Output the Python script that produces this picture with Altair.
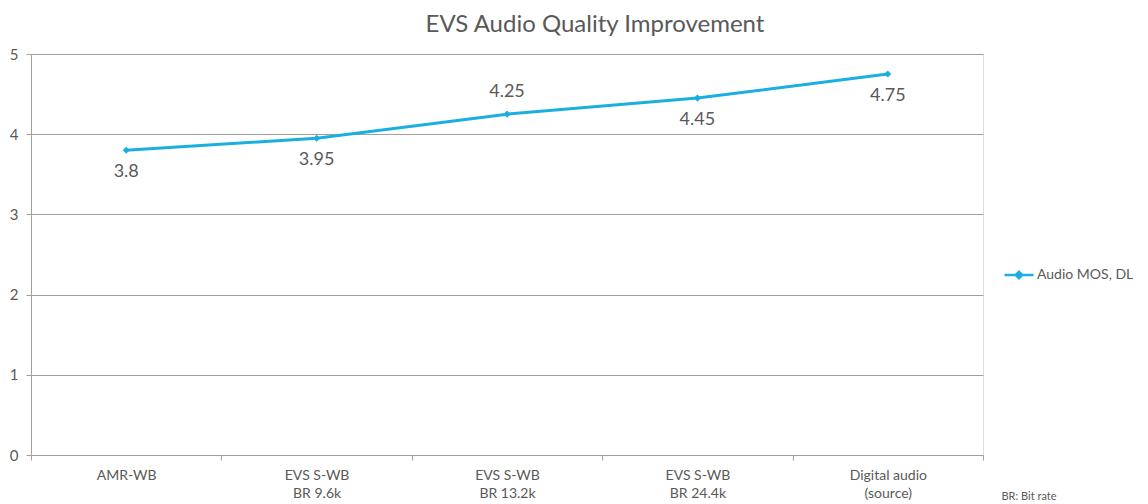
import altair as alt
import pandas as pd

categories = ["AMR-WB", "EVS S-WB|BR 9.6k", "EVS S-WB|BR 13.2k", "EVS S-WB|BR 24.4k", "Digital audio|(source)"]
mos = [3.8, 3.95, 4.25, 4.45, 4.75]
label_side = ["below", "below", "above", "below", "below"]
series_name = "Audio MOS, DL"
y_ticks = [0, 1, 2, 3, 4, 5]
note = "BR: Bit rate"
title = "EVS Audio Quality Improvement"

BLUE = "#1aafe0"
TEXT = "#595959"
GRID = "#a0a0a0"
FONT = "Lato"

df = pd.DataFrame({"cat": categories, "mos": mos, "side": label_side, "series": series_name})

x_enc = alt.X(
    "cat:N",
    sort=categories,
    scale=alt.Scale(type="band", paddingInner=0, paddingOuter=0),
    axis=alt.Axis(
        title=note,
        titleX=970, titleY=41, titleAlign="left", titleBaseline="middle",
        titleFontSize=11, titleFontWeight="normal", titleColor=TEXT, titleFont=FONT,
        labelExpr="split(datum.label, '|')",
        labelAngle=0, labelFontSize=14, labelColor=TEXT, labelFont=FONT,
        labelLineHeight=18, labelPadding=8, labelBaseline="top",
        tickBand="extent", tickSize=5, tickColor=GRID, domainColor=GRID,
        grid=False,
    ),
)
y_enc = alt.Y(
    "mos:Q",
    scale=alt.Scale(domain=[0, 5], nice=False),
    axis=alt.Axis(
        title=None, values=y_ticks, grid=True, gridColor=GRID, domainColor=GRID,
        tickColor=GRID, tickSize=5, labelPadding=8, labelFontSize=15,
        labelColor=TEXT, labelFont=FONT,
    ),
)

base = alt.Chart(df)

line = base.mark_line(strokeWidth=3).encode(
    x=x_enc, y=y_enc,
    color=alt.Color(
        "series:N",
        scale=alt.Scale(domain=[series_name], range=[BLUE]),
        legend=alt.Legend(
            title=None, orient="none", legendX=972, legendY=205, padding=0,
            symbolType="M-1,0H1M0,-0.22L0.22,0L0,0.22L-0.22,0Z",
            symbolSize=841, symbolStrokeWidth=2.5, symbolFillColor=BLUE,
            symbolStrokeColor=BLUE,
            labelFontSize=14, labelColor=TEXT, labelFont=FONT, labelOffset=2,
        ),
    ),
)

points = base.mark_point(shape="diamond", filled=True, size=50, color=BLUE, opacity=1).encode(
    x=x_enc, y=y_enc
)

below = base.transform_filter(alt.datum.side == "below").mark_text(
    dy=22, fontSize=18, color=TEXT, font=FONT, baseline="middle"
).encode(x=x_enc, y=y_enc, text="mos:Q")

above = base.transform_filter(alt.datum.side == "above").mark_text(
    dy=-22, fontSize=18, color=TEXT, font=FONT, baseline="middle"
).encode(x=x_enc, y=y_enc, text="mos:Q")

chart = alt.layer(line, points, below, above).properties(
    width=952,
    height=401,
    title=alt.Title(title, fontSize=24, font=FONT, fontWeight="normal", color=TEXT, dx=88, offset=10),
    autosize=alt.AutoSizeParams(type="none"),
    padding={"left": 23, "top": 46, "right": 150, "bottom": 46},
).configure_view(stroke=None).configure(background="white")

chart.save("out.html", embed_options={"renderer": "svg", "actions": False})
